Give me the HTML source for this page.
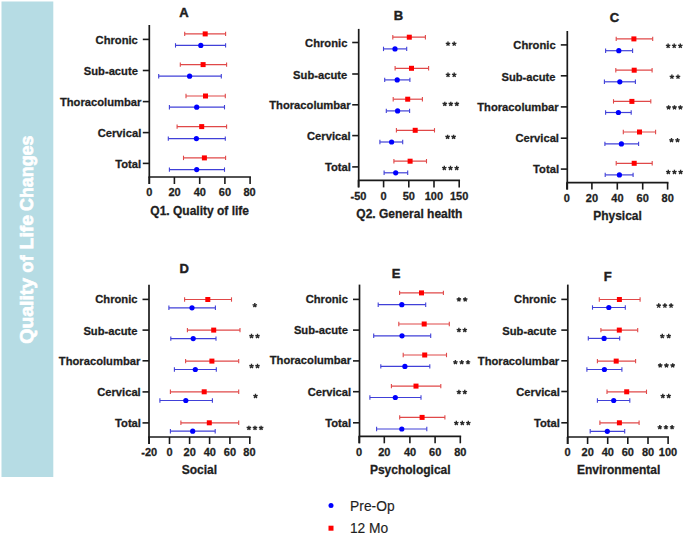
<!DOCTYPE html>
<html><head><meta charset="utf-8"><style>
html,body{margin:0;padding:0;background:#fff;}
body{width:685px;height:535px;overflow:hidden;position:relative;}
svg{position:absolute;left:0;top:0;}
text{font-family:"Liberation Sans",sans-serif;}
</style></head><body>
<svg width="685" height="535" viewBox="0 0 685 535">
<rect x="0" y="0" width="685" height="535" fill="#ffffff"/>
<rect x="1.5" y="1.5" width="51.8" height="475.5" fill="#b6dce4"/>
<text transform="translate(32.80,343.68) rotate(-90)" font-size="19.00" font-weight="bold" fill="#ffffff" stroke="#ffffff" stroke-width="0.7" textLength="65.77" lengthAdjust="spacingAndGlyphs">Quality</text>
<text transform="translate(32.80,272.63) rotate(-90)" font-size="19.00" font-weight="bold" fill="#ffffff" stroke="#ffffff" stroke-width="0.7" textLength="17.21" lengthAdjust="spacingAndGlyphs">of</text>
<text transform="translate(32.80,249.46) rotate(-90)" font-size="19.00" font-weight="bold" fill="#ffffff" stroke="#ffffff" stroke-width="0.7" textLength="34.50" lengthAdjust="spacingAndGlyphs">Life</text>
<text transform="translate(32.80,210.91) rotate(-90)" font-size="19.00" font-weight="bold" fill="#ffffff" stroke="#ffffff" stroke-width="0.7" textLength="75.28" lengthAdjust="spacingAndGlyphs">Changes</text>
<line x1="149.30" y1="25.00" x2="149.30" y2="184.00" stroke="#1a1a1a" stroke-width="1.70"/>
<line x1="148.45" y1="177.00" x2="250.95" y2="177.00" stroke="#1a1a1a" stroke-width="1.70"/>
<line x1="149.30" y1="177.00" x2="149.30" y2="184.00" stroke="#1a1a1a" stroke-width="1.60"/>
<text x="146.15" y="196.20" font-size="11.00" font-weight="bold" fill="#1e1e1e" stroke="#1e1e1e" stroke-width="0.28">0</text>
<line x1="174.40" y1="177.00" x2="174.40" y2="184.00" stroke="#1a1a1a" stroke-width="1.60"/>
<text x="168.42" y="196.20" font-size="11.00" font-weight="bold" fill="#1e1e1e" stroke="#1e1e1e" stroke-width="0.28">20</text>
<line x1="199.70" y1="177.00" x2="199.70" y2="184.00" stroke="#1a1a1a" stroke-width="1.60"/>
<text x="193.73" y="196.20" font-size="11.00" font-weight="bold" fill="#1e1e1e" stroke="#1e1e1e" stroke-width="0.28">40</text>
<line x1="224.90" y1="177.00" x2="224.90" y2="184.00" stroke="#1a1a1a" stroke-width="1.60"/>
<text x="218.82" y="196.20" font-size="11.00" font-weight="bold" fill="#1e1e1e" stroke="#1e1e1e" stroke-width="0.28">60</text>
<line x1="250.10" y1="177.00" x2="250.10" y2="184.00" stroke="#1a1a1a" stroke-width="1.60"/>
<text x="243.50" y="196.20" font-size="11.00" font-weight="bold" fill="#1e1e1e" stroke="#1e1e1e" stroke-width="0.28">80</text>
<line x1="142.80" y1="39.40" x2="149.30" y2="39.40" stroke="#1a1a1a" stroke-width="1.60"/>
<text x="95.55" y="43.50" font-size="11.20" font-weight="bold" fill="#1e1e1e" stroke="#1e1e1e" stroke-width="0.28">Chronic</text>
<line x1="142.80" y1="70.50" x2="149.30" y2="70.50" stroke="#1a1a1a" stroke-width="1.60"/>
<text x="83.80" y="74.60" font-size="11.20" font-weight="bold" fill="#1e1e1e" stroke="#1e1e1e" stroke-width="0.28">Sub-acute</text>
<line x1="142.80" y1="101.60" x2="149.30" y2="101.60" stroke="#1a1a1a" stroke-width="1.60"/>
<text x="59.96" y="105.70" font-size="11.20" font-weight="bold" fill="#1e1e1e" stroke="#1e1e1e" stroke-width="0.28">Thoracolumbar</text>
<line x1="142.80" y1="132.60" x2="149.30" y2="132.60" stroke="#1a1a1a" stroke-width="1.60"/>
<text x="97.73" y="136.90" font-size="11.20" font-weight="bold" fill="#1e1e1e" stroke="#1e1e1e" stroke-width="0.28">Cervical</text>
<line x1="142.80" y1="163.40" x2="149.30" y2="163.40" stroke="#1a1a1a" stroke-width="1.60"/>
<text x="115.25" y="167.80" font-size="11.20" font-weight="bold" fill="#1e1e1e" stroke="#1e1e1e" stroke-width="0.28">Total</text>
<line x1="184.70" y1="33.90" x2="225.60" y2="33.90" stroke="#e04848" stroke-width="1.20"/>
<line x1="184.70" y1="31.70" x2="184.70" y2="36.10" stroke="#e04848" stroke-width="1.10"/>
<line x1="225.60" y1="31.70" x2="225.60" y2="36.10" stroke="#e04848" stroke-width="1.10"/>
<rect x="202.70" y="31.40" width="5" height="5" fill="#ff0000"/>
<line x1="180.30" y1="64.60" x2="226.60" y2="64.60" stroke="#e04848" stroke-width="1.20"/>
<line x1="180.30" y1="62.40" x2="180.30" y2="66.80" stroke="#e04848" stroke-width="1.10"/>
<line x1="226.60" y1="62.40" x2="226.60" y2="66.80" stroke="#e04848" stroke-width="1.10"/>
<rect x="200.60" y="62.10" width="5" height="5" fill="#ff0000"/>
<line x1="186.00" y1="96.00" x2="225.30" y2="96.00" stroke="#e04848" stroke-width="1.20"/>
<line x1="186.00" y1="93.80" x2="186.00" y2="98.20" stroke="#e04848" stroke-width="1.10"/>
<line x1="225.30" y1="93.80" x2="225.30" y2="98.20" stroke="#e04848" stroke-width="1.10"/>
<rect x="203.00" y="93.50" width="5" height="5" fill="#ff0000"/>
<line x1="177.10" y1="126.60" x2="226.60" y2="126.60" stroke="#e04848" stroke-width="1.20"/>
<line x1="177.10" y1="124.40" x2="177.10" y2="128.80" stroke="#e04848" stroke-width="1.10"/>
<line x1="226.60" y1="124.40" x2="226.60" y2="128.80" stroke="#e04848" stroke-width="1.10"/>
<rect x="199.20" y="124.10" width="5" height="5" fill="#ff0000"/>
<line x1="183.50" y1="157.90" x2="225.60" y2="157.90" stroke="#e04848" stroke-width="1.20"/>
<line x1="183.50" y1="155.70" x2="183.50" y2="160.10" stroke="#e04848" stroke-width="1.10"/>
<line x1="225.60" y1="155.70" x2="225.60" y2="160.10" stroke="#e04848" stroke-width="1.10"/>
<rect x="201.90" y="155.40" width="5" height="5" fill="#ff0000"/>
<line x1="175.50" y1="45.40" x2="225.60" y2="45.40" stroke="#4040d8" stroke-width="1.20"/>
<line x1="175.50" y1="43.20" x2="175.50" y2="47.60" stroke="#4040d8" stroke-width="1.10"/>
<line x1="225.60" y1="43.20" x2="225.60" y2="47.60" stroke="#4040d8" stroke-width="1.10"/>
<circle cx="200.80" cy="45.40" r="2.6" fill="#0000ff"/>
<line x1="158.70" y1="76.20" x2="221.30" y2="76.20" stroke="#4040d8" stroke-width="1.20"/>
<line x1="158.70" y1="74.00" x2="158.70" y2="78.40" stroke="#4040d8" stroke-width="1.10"/>
<line x1="221.30" y1="74.00" x2="221.30" y2="78.40" stroke="#4040d8" stroke-width="1.10"/>
<circle cx="189.60" cy="76.20" r="2.6" fill="#0000ff"/>
<line x1="169.40" y1="107.20" x2="224.50" y2="107.20" stroke="#4040d8" stroke-width="1.20"/>
<line x1="169.40" y1="105.00" x2="169.40" y2="109.40" stroke="#4040d8" stroke-width="1.10"/>
<line x1="224.50" y1="105.00" x2="224.50" y2="109.40" stroke="#4040d8" stroke-width="1.10"/>
<circle cx="196.70" cy="107.20" r="2.6" fill="#0000ff"/>
<line x1="168.30" y1="138.60" x2="225.30" y2="138.60" stroke="#4040d8" stroke-width="1.20"/>
<line x1="168.30" y1="136.40" x2="168.30" y2="140.80" stroke="#4040d8" stroke-width="1.10"/>
<line x1="225.30" y1="136.40" x2="225.30" y2="140.80" stroke="#4040d8" stroke-width="1.10"/>
<circle cx="196.40" cy="138.60" r="2.6" fill="#0000ff"/>
<line x1="169.40" y1="169.60" x2="224.50" y2="169.60" stroke="#4040d8" stroke-width="1.20"/>
<line x1="169.40" y1="167.40" x2="169.40" y2="171.80" stroke="#4040d8" stroke-width="1.10"/>
<line x1="224.50" y1="167.40" x2="224.50" y2="171.80" stroke="#4040d8" stroke-width="1.10"/>
<circle cx="196.70" cy="169.60" r="2.6" fill="#0000ff"/>
<text x="179.17" y="16.60" font-size="13.00" font-weight="bold" fill="#1e1e1e" stroke="#1e1e1e" stroke-width="0.45">A</text>
<text x="150.32" y="214.80" font-size="12.00" font-weight="bold" fill="#1e1e1e" stroke="#1e1e1e" stroke-width="0.28">Q1. Quality of life</text>
<line x1="358.70" y1="28.90" x2="358.70" y2="187.40" stroke="#1a1a1a" stroke-width="1.70"/>
<line x1="357.85" y1="180.40" x2="460.05" y2="180.40" stroke="#1a1a1a" stroke-width="1.70"/>
<line x1="358.50" y1="180.40" x2="358.50" y2="187.40" stroke="#1a1a1a" stroke-width="1.60"/>
<text x="350.55" y="200.00" font-size="11.00" font-weight="bold" fill="#1e1e1e" stroke="#1e1e1e" stroke-width="0.28">-50</text>
<line x1="383.60" y1="180.40" x2="383.60" y2="187.40" stroke="#1a1a1a" stroke-width="1.60"/>
<text x="380.55" y="200.00" font-size="11.00" font-weight="bold" fill="#1e1e1e" stroke="#1e1e1e" stroke-width="0.28">0</text>
<line x1="408.80" y1="180.40" x2="408.80" y2="187.40" stroke="#1a1a1a" stroke-width="1.60"/>
<text x="402.75" y="200.00" font-size="11.00" font-weight="bold" fill="#1e1e1e" stroke="#1e1e1e" stroke-width="0.28">50</text>
<line x1="434.00" y1="180.40" x2="434.00" y2="187.40" stroke="#1a1a1a" stroke-width="1.60"/>
<text x="424.70" y="200.00" font-size="11.00" font-weight="bold" fill="#1e1e1e" stroke="#1e1e1e" stroke-width="0.28">100</text>
<line x1="459.20" y1="180.40" x2="459.20" y2="187.40" stroke="#1a1a1a" stroke-width="1.60"/>
<text x="449.90" y="200.00" font-size="11.00" font-weight="bold" fill="#1e1e1e" stroke="#1e1e1e" stroke-width="0.28">150</text>
<line x1="352.20" y1="42.50" x2="358.70" y2="42.50" stroke="#1a1a1a" stroke-width="1.60"/>
<text x="305.10" y="47.20" font-size="11.20" font-weight="bold" fill="#1e1e1e" stroke="#1e1e1e" stroke-width="0.28">Chronic</text>
<line x1="352.20" y1="74.00" x2="358.70" y2="74.00" stroke="#1a1a1a" stroke-width="1.60"/>
<text x="293.10" y="78.50" font-size="11.20" font-weight="bold" fill="#1e1e1e" stroke="#1e1e1e" stroke-width="0.28">Sub-acute</text>
<line x1="352.20" y1="104.80" x2="358.70" y2="104.80" stroke="#1a1a1a" stroke-width="1.60"/>
<text x="269.26" y="109.10" font-size="11.20" font-weight="bold" fill="#1e1e1e" stroke="#1e1e1e" stroke-width="0.28">Thoracolumbar</text>
<line x1="352.20" y1="135.60" x2="358.70" y2="135.60" stroke="#1a1a1a" stroke-width="1.60"/>
<text x="307.03" y="140.40" font-size="11.20" font-weight="bold" fill="#1e1e1e" stroke="#1e1e1e" stroke-width="0.28">Cervical</text>
<line x1="352.20" y1="166.90" x2="358.70" y2="166.90" stroke="#1a1a1a" stroke-width="1.60"/>
<text x="324.90" y="171.20" font-size="11.20" font-weight="bold" fill="#1e1e1e" stroke="#1e1e1e" stroke-width="0.28">Total</text>
<line x1="392.80" y1="37.20" x2="425.40" y2="37.20" stroke="#e04848" stroke-width="1.20"/>
<line x1="392.80" y1="35.00" x2="392.80" y2="39.40" stroke="#e04848" stroke-width="1.10"/>
<line x1="425.40" y1="35.00" x2="425.40" y2="39.40" stroke="#e04848" stroke-width="1.10"/>
<rect x="406.80" y="34.70" width="5" height="5" fill="#ff0000"/>
<line x1="395.10" y1="68.30" x2="428.60" y2="68.30" stroke="#e04848" stroke-width="1.20"/>
<line x1="395.10" y1="66.10" x2="395.10" y2="70.50" stroke="#e04848" stroke-width="1.10"/>
<line x1="428.60" y1="66.10" x2="428.60" y2="70.50" stroke="#e04848" stroke-width="1.10"/>
<rect x="409.00" y="65.80" width="5" height="5" fill="#ff0000"/>
<line x1="393.20" y1="99.20" x2="422.40" y2="99.20" stroke="#e04848" stroke-width="1.20"/>
<line x1="393.20" y1="97.00" x2="393.20" y2="101.40" stroke="#e04848" stroke-width="1.10"/>
<line x1="422.40" y1="97.00" x2="422.40" y2="101.40" stroke="#e04848" stroke-width="1.10"/>
<rect x="405.20" y="96.70" width="5" height="5" fill="#ff0000"/>
<line x1="396.40" y1="130.30" x2="434.50" y2="130.30" stroke="#e04848" stroke-width="1.20"/>
<line x1="396.40" y1="128.10" x2="396.40" y2="132.50" stroke="#e04848" stroke-width="1.10"/>
<line x1="434.50" y1="128.10" x2="434.50" y2="132.50" stroke="#e04848" stroke-width="1.10"/>
<rect x="412.70" y="127.80" width="5" height="5" fill="#ff0000"/>
<line x1="393.90" y1="161.20" x2="426.50" y2="161.20" stroke="#e04848" stroke-width="1.20"/>
<line x1="393.90" y1="159.00" x2="393.90" y2="163.40" stroke="#e04848" stroke-width="1.10"/>
<line x1="426.50" y1="159.00" x2="426.50" y2="163.40" stroke="#e04848" stroke-width="1.10"/>
<rect x="407.60" y="158.70" width="5" height="5" fill="#ff0000"/>
<line x1="383.50" y1="48.90" x2="406.70" y2="48.90" stroke="#4040d8" stroke-width="1.20"/>
<line x1="383.50" y1="46.70" x2="383.50" y2="51.10" stroke="#4040d8" stroke-width="1.10"/>
<line x1="406.70" y1="46.70" x2="406.70" y2="51.10" stroke="#4040d8" stroke-width="1.10"/>
<circle cx="395.00" cy="48.90" r="2.6" fill="#0000ff"/>
<line x1="384.70" y1="79.90" x2="409.90" y2="79.90" stroke="#4040d8" stroke-width="1.20"/>
<line x1="384.70" y1="77.70" x2="384.70" y2="82.10" stroke="#4040d8" stroke-width="1.10"/>
<line x1="409.90" y1="77.70" x2="409.90" y2="82.10" stroke="#4040d8" stroke-width="1.10"/>
<circle cx="397.20" cy="79.90" r="2.6" fill="#0000ff"/>
<line x1="386.30" y1="110.90" x2="409.60" y2="110.90" stroke="#4040d8" stroke-width="1.20"/>
<line x1="386.30" y1="108.70" x2="386.30" y2="113.10" stroke="#4040d8" stroke-width="1.10"/>
<line x1="409.60" y1="108.70" x2="409.60" y2="113.10" stroke="#4040d8" stroke-width="1.10"/>
<circle cx="397.60" cy="110.90" r="2.6" fill="#0000ff"/>
<line x1="379.90" y1="142.00" x2="402.70" y2="142.00" stroke="#4040d8" stroke-width="1.20"/>
<line x1="379.90" y1="139.80" x2="379.90" y2="144.20" stroke="#4040d8" stroke-width="1.10"/>
<line x1="402.70" y1="139.80" x2="402.70" y2="144.20" stroke="#4040d8" stroke-width="1.10"/>
<circle cx="391.60" cy="142.00" r="2.6" fill="#0000ff"/>
<line x1="384.10" y1="172.80" x2="407.70" y2="172.80" stroke="#4040d8" stroke-width="1.20"/>
<line x1="384.10" y1="170.60" x2="384.10" y2="175.00" stroke="#4040d8" stroke-width="1.10"/>
<line x1="407.70" y1="170.60" x2="407.70" y2="175.00" stroke="#4040d8" stroke-width="1.10"/>
<circle cx="395.70" cy="172.80" r="2.6" fill="#0000ff"/>
<path d="M448.00 43.80L448.00 41.45M448.00 43.80L450.23 43.07M448.00 43.80L449.38 45.70M448.00 43.80L446.62 45.70M448.00 43.80L445.77 43.07" stroke="#2a2a2a" stroke-width="1.4"/>
<path d="M454.20 43.80L454.20 41.45M454.20 43.80L456.43 43.07M454.20 43.80L455.58 45.70M454.20 43.80L452.82 45.70M454.20 43.80L451.97 43.07" stroke="#2a2a2a" stroke-width="1.4"/>
<path d="M448.00 74.90L448.00 72.55M448.00 74.90L450.23 74.17M448.00 74.90L449.38 76.80M448.00 74.90L446.62 76.80M448.00 74.90L445.77 74.17" stroke="#2a2a2a" stroke-width="1.4"/>
<path d="M454.20 74.90L454.20 72.55M454.20 74.90L456.43 74.17M454.20 74.90L455.58 76.80M454.20 74.90L452.82 76.80M454.20 74.90L451.97 74.17" stroke="#2a2a2a" stroke-width="1.4"/>
<path d="M444.80 104.00L444.80 101.65M444.80 104.00L447.03 103.27M444.80 104.00L446.18 105.90M444.80 104.00L443.42 105.90M444.80 104.00L442.57 103.27" stroke="#2a2a2a" stroke-width="1.4"/>
<path d="M450.80 104.00L450.80 101.65M450.80 104.00L453.03 103.27M450.80 104.00L452.18 105.90M450.80 104.00L449.42 105.90M450.80 104.00L448.57 103.27" stroke="#2a2a2a" stroke-width="1.4"/>
<path d="M456.80 104.00L456.80 101.65M456.80 104.00L459.03 103.27M456.80 104.00L458.18 105.90M456.80 104.00L455.42 105.90M456.80 104.00L454.57 103.27" stroke="#2a2a2a" stroke-width="1.4"/>
<path d="M447.60 137.00L447.60 134.65M447.60 137.00L449.83 136.27M447.60 137.00L448.98 138.90M447.60 137.00L446.22 138.90M447.60 137.00L445.37 136.27" stroke="#2a2a2a" stroke-width="1.4"/>
<path d="M453.60 137.00L453.60 134.65M453.60 137.00L455.83 136.27M453.60 137.00L454.98 138.90M453.60 137.00L452.22 138.90M453.60 137.00L451.37 136.27" stroke="#2a2a2a" stroke-width="1.4"/>
<path d="M444.30 168.10L444.30 165.75M444.30 168.10L446.53 167.37M444.30 168.10L445.68 170.00M444.30 168.10L442.92 170.00M444.30 168.10L442.07 167.37" stroke="#2a2a2a" stroke-width="1.4"/>
<path d="M450.50 168.10L450.50 165.75M450.50 168.10L452.73 167.37M450.50 168.10L451.88 170.00M450.50 168.10L449.12 170.00M450.50 168.10L448.27 167.37" stroke="#2a2a2a" stroke-width="1.4"/>
<path d="M456.70 168.10L456.70 165.75M456.70 168.10L458.93 167.37M456.70 168.10L458.08 170.00M456.70 168.10L455.32 170.00M456.70 168.10L454.47 167.37" stroke="#2a2a2a" stroke-width="1.4"/>
<text x="393.74" y="19.90" font-size="13.00" font-weight="bold" fill="#1e1e1e" stroke="#1e1e1e" stroke-width="0.45">B</text>
<text x="356.36" y="218.20" font-size="12.00" font-weight="bold" fill="#1e1e1e" stroke="#1e1e1e" stroke-width="0.28">Q2. General health</text>
<line x1="567.30" y1="31.00" x2="567.30" y2="189.60" stroke="#1a1a1a" stroke-width="1.70"/>
<line x1="566.45" y1="182.60" x2="668.45" y2="182.60" stroke="#1a1a1a" stroke-width="1.70"/>
<line x1="566.90" y1="182.60" x2="566.90" y2="189.60" stroke="#1a1a1a" stroke-width="1.60"/>
<text x="563.85" y="201.80" font-size="11.00" font-weight="bold" fill="#1e1e1e" stroke="#1e1e1e" stroke-width="0.28">0</text>
<line x1="591.90" y1="182.60" x2="591.90" y2="189.60" stroke="#1a1a1a" stroke-width="1.60"/>
<text x="585.82" y="201.80" font-size="11.00" font-weight="bold" fill="#1e1e1e" stroke="#1e1e1e" stroke-width="0.28">20</text>
<line x1="617.30" y1="182.60" x2="617.30" y2="189.60" stroke="#1a1a1a" stroke-width="1.60"/>
<text x="611.33" y="201.80" font-size="11.00" font-weight="bold" fill="#1e1e1e" stroke="#1e1e1e" stroke-width="0.28">40</text>
<line x1="642.70" y1="182.60" x2="642.70" y2="189.60" stroke="#1a1a1a" stroke-width="1.60"/>
<text x="636.62" y="201.80" font-size="11.00" font-weight="bold" fill="#1e1e1e" stroke="#1e1e1e" stroke-width="0.28">60</text>
<line x1="667.60" y1="182.60" x2="667.60" y2="189.60" stroke="#1a1a1a" stroke-width="1.60"/>
<text x="661.55" y="201.80" font-size="11.00" font-weight="bold" fill="#1e1e1e" stroke="#1e1e1e" stroke-width="0.28">80</text>
<line x1="560.80" y1="44.90" x2="567.30" y2="44.90" stroke="#1a1a1a" stroke-width="1.60"/>
<text x="513.35" y="49.30" font-size="11.20" font-weight="bold" fill="#1e1e1e" stroke="#1e1e1e" stroke-width="0.28">Chronic</text>
<line x1="560.80" y1="75.80" x2="567.30" y2="75.80" stroke="#1a1a1a" stroke-width="1.60"/>
<text x="501.45" y="80.50" font-size="11.20" font-weight="bold" fill="#1e1e1e" stroke="#1e1e1e" stroke-width="0.28">Sub-acute</text>
<line x1="560.80" y1="106.90" x2="567.30" y2="106.90" stroke="#1a1a1a" stroke-width="1.60"/>
<text x="477.26" y="111.10" font-size="11.20" font-weight="bold" fill="#1e1e1e" stroke="#1e1e1e" stroke-width="0.28">Thoracolumbar</text>
<line x1="560.80" y1="138.20" x2="567.30" y2="138.20" stroke="#1a1a1a" stroke-width="1.60"/>
<text x="515.43" y="142.30" font-size="11.20" font-weight="bold" fill="#1e1e1e" stroke="#1e1e1e" stroke-width="0.28">Cervical</text>
<line x1="560.80" y1="169.10" x2="567.30" y2="169.10" stroke="#1a1a1a" stroke-width="1.60"/>
<text x="533.10" y="172.80" font-size="11.20" font-weight="bold" fill="#1e1e1e" stroke="#1e1e1e" stroke-width="0.28">Total</text>
<line x1="616.20" y1="38.90" x2="652.70" y2="38.90" stroke="#e04848" stroke-width="1.20"/>
<line x1="616.20" y1="36.70" x2="616.20" y2="41.10" stroke="#e04848" stroke-width="1.10"/>
<line x1="652.70" y1="36.70" x2="652.70" y2="41.10" stroke="#e04848" stroke-width="1.10"/>
<rect x="631.40" y="36.40" width="5" height="5" fill="#ff0000"/>
<line x1="615.80" y1="70.20" x2="652.10" y2="70.20" stroke="#e04848" stroke-width="1.20"/>
<line x1="615.80" y1="68.00" x2="615.80" y2="72.40" stroke="#e04848" stroke-width="1.10"/>
<line x1="652.10" y1="68.00" x2="652.10" y2="72.40" stroke="#e04848" stroke-width="1.10"/>
<rect x="631.70" y="67.70" width="5" height="5" fill="#ff0000"/>
<line x1="613.50" y1="101.40" x2="650.80" y2="101.40" stroke="#e04848" stroke-width="1.20"/>
<line x1="613.50" y1="99.20" x2="613.50" y2="103.60" stroke="#e04848" stroke-width="1.10"/>
<line x1="650.80" y1="99.20" x2="650.80" y2="103.60" stroke="#e04848" stroke-width="1.10"/>
<rect x="629.40" y="98.90" width="5" height="5" fill="#ff0000"/>
<line x1="623.30" y1="132.00" x2="655.60" y2="132.00" stroke="#e04848" stroke-width="1.20"/>
<line x1="623.30" y1="129.80" x2="623.30" y2="134.20" stroke="#e04848" stroke-width="1.10"/>
<line x1="655.60" y1="129.80" x2="655.60" y2="134.20" stroke="#e04848" stroke-width="1.10"/>
<rect x="637.00" y="129.50" width="5" height="5" fill="#ff0000"/>
<line x1="616.20" y1="163.30" x2="652.20" y2="163.30" stroke="#e04848" stroke-width="1.20"/>
<line x1="616.20" y1="161.10" x2="616.20" y2="165.50" stroke="#e04848" stroke-width="1.10"/>
<line x1="652.20" y1="161.10" x2="652.20" y2="165.50" stroke="#e04848" stroke-width="1.10"/>
<rect x="631.70" y="160.80" width="5" height="5" fill="#ff0000"/>
<line x1="605.60" y1="50.70" x2="632.60" y2="50.70" stroke="#4040d8" stroke-width="1.20"/>
<line x1="605.60" y1="48.50" x2="605.60" y2="52.90" stroke="#4040d8" stroke-width="1.10"/>
<line x1="632.60" y1="48.50" x2="632.60" y2="52.90" stroke="#4040d8" stroke-width="1.10"/>
<circle cx="618.80" cy="50.70" r="2.6" fill="#0000ff"/>
<line x1="604.40" y1="81.80" x2="635.40" y2="81.80" stroke="#4040d8" stroke-width="1.20"/>
<line x1="604.40" y1="79.60" x2="604.40" y2="84.00" stroke="#4040d8" stroke-width="1.10"/>
<line x1="635.40" y1="79.60" x2="635.40" y2="84.00" stroke="#4040d8" stroke-width="1.10"/>
<circle cx="619.80" cy="81.80" r="2.6" fill="#0000ff"/>
<line x1="605.60" y1="112.50" x2="631.20" y2="112.50" stroke="#4040d8" stroke-width="1.20"/>
<line x1="605.60" y1="110.30" x2="605.60" y2="114.70" stroke="#4040d8" stroke-width="1.10"/>
<line x1="631.20" y1="110.30" x2="631.20" y2="114.70" stroke="#4040d8" stroke-width="1.10"/>
<circle cx="618.40" cy="112.50" r="2.6" fill="#0000ff"/>
<line x1="604.90" y1="143.90" x2="638.60" y2="143.90" stroke="#4040d8" stroke-width="1.20"/>
<line x1="604.90" y1="141.70" x2="604.90" y2="146.10" stroke="#4040d8" stroke-width="1.10"/>
<line x1="638.60" y1="141.70" x2="638.60" y2="146.10" stroke="#4040d8" stroke-width="1.10"/>
<circle cx="621.40" cy="143.90" r="2.6" fill="#0000ff"/>
<line x1="605.20" y1="174.90" x2="633.10" y2="174.90" stroke="#4040d8" stroke-width="1.20"/>
<line x1="605.20" y1="172.70" x2="605.20" y2="177.10" stroke="#4040d8" stroke-width="1.10"/>
<line x1="633.10" y1="172.70" x2="633.10" y2="177.10" stroke="#4040d8" stroke-width="1.10"/>
<circle cx="619.40" cy="174.90" r="2.6" fill="#0000ff"/>
<path d="M668.10 45.90L668.10 43.55M668.10 45.90L670.33 45.17M668.10 45.90L669.48 47.80M668.10 45.90L666.72 47.80M668.10 45.90L665.87 45.17" stroke="#2a2a2a" stroke-width="1.4"/>
<path d="M674.20 45.90L674.20 43.55M674.20 45.90L676.43 45.17M674.20 45.90L675.58 47.80M674.20 45.90L672.82 47.80M674.20 45.90L671.97 45.17" stroke="#2a2a2a" stroke-width="1.4"/>
<path d="M680.30 45.90L680.30 43.55M680.30 45.90L682.53 45.17M680.30 45.90L681.68 47.80M680.30 45.90L678.92 47.80M680.30 45.90L678.07 45.17" stroke="#2a2a2a" stroke-width="1.4"/>
<path d="M671.90 76.80L671.90 74.45M671.90 76.80L674.13 76.07M671.90 76.80L673.28 78.70M671.90 76.80L670.52 78.70M671.90 76.80L669.67 76.07" stroke="#2a2a2a" stroke-width="1.4"/>
<path d="M678.00 76.80L678.00 74.45M678.00 76.80L680.23 76.07M678.00 76.80L679.38 78.70M678.00 76.80L676.62 78.70M678.00 76.80L675.77 76.07" stroke="#2a2a2a" stroke-width="1.4"/>
<path d="M668.60 107.50L668.60 105.15M668.60 107.50L670.83 106.77M668.60 107.50L669.98 109.40M668.60 107.50L667.22 109.40M668.60 107.50L666.37 106.77" stroke="#2a2a2a" stroke-width="1.4"/>
<path d="M674.50 107.50L674.50 105.15M674.50 107.50L676.73 106.77M674.50 107.50L675.88 109.40M674.50 107.50L673.12 109.40M674.50 107.50L672.27 106.77" stroke="#2a2a2a" stroke-width="1.4"/>
<path d="M680.40 107.50L680.40 105.15M680.40 107.50L682.63 106.77M680.40 107.50L681.78 109.40M680.40 107.50L679.02 109.40M680.40 107.50L678.17 106.77" stroke="#2a2a2a" stroke-width="1.4"/>
<path d="M671.50 140.30L671.50 137.95M671.50 140.30L673.73 139.57M671.50 140.30L672.88 142.20M671.50 140.30L670.12 142.20M671.50 140.30L669.27 139.57" stroke="#2a2a2a" stroke-width="1.4"/>
<path d="M677.50 140.30L677.50 137.95M677.50 140.30L679.73 139.57M677.50 140.30L678.88 142.20M677.50 140.30L676.12 142.20M677.50 140.30L675.27 139.57" stroke="#2a2a2a" stroke-width="1.4"/>
<path d="M668.30 172.10L668.30 169.75M668.30 172.10L670.53 171.37M668.30 172.10L669.68 174.00M668.30 172.10L666.92 174.00M668.30 172.10L666.07 171.37" stroke="#2a2a2a" stroke-width="1.4"/>
<path d="M674.45 172.10L674.45 169.75M674.45 172.10L676.68 171.37M674.45 172.10L675.83 174.00M674.45 172.10L673.07 174.00M674.45 172.10L672.22 171.37" stroke="#2a2a2a" stroke-width="1.4"/>
<path d="M680.60 172.10L680.60 169.75M680.60 172.10L682.83 171.37M680.60 172.10L681.98 174.00M680.60 172.10L679.22 174.00M680.60 172.10L678.37 171.37" stroke="#2a2a2a" stroke-width="1.4"/>
<text x="609.72" y="21.50" font-size="13.00" font-weight="bold" fill="#1e1e1e" stroke="#1e1e1e" stroke-width="0.45">C</text>
<text x="593.15" y="219.50" font-size="12.00" font-weight="bold" fill="#1e1e1e" stroke="#1e1e1e" stroke-width="0.28">Physical</text>
<line x1="149.00" y1="284.70" x2="149.00" y2="444.00" stroke="#1a1a1a" stroke-width="1.70"/>
<line x1="148.15" y1="437.00" x2="250.65" y2="437.00" stroke="#1a1a1a" stroke-width="1.70"/>
<line x1="149.20" y1="437.00" x2="149.20" y2="444.00" stroke="#1a1a1a" stroke-width="1.60"/>
<text x="141.25" y="456.30" font-size="11.00" font-weight="bold" fill="#1e1e1e" stroke="#1e1e1e" stroke-width="0.28">-20</text>
<line x1="169.50" y1="437.00" x2="169.50" y2="444.00" stroke="#1a1a1a" stroke-width="1.60"/>
<text x="166.45" y="456.30" font-size="11.00" font-weight="bold" fill="#1e1e1e" stroke="#1e1e1e" stroke-width="0.28">0</text>
<line x1="189.60" y1="437.00" x2="189.60" y2="444.00" stroke="#1a1a1a" stroke-width="1.60"/>
<text x="183.52" y="456.30" font-size="11.00" font-weight="bold" fill="#1e1e1e" stroke="#1e1e1e" stroke-width="0.28">20</text>
<line x1="209.60" y1="437.00" x2="209.60" y2="444.00" stroke="#1a1a1a" stroke-width="1.60"/>
<text x="203.63" y="456.30" font-size="11.00" font-weight="bold" fill="#1e1e1e" stroke="#1e1e1e" stroke-width="0.28">40</text>
<line x1="229.90" y1="437.00" x2="229.90" y2="444.00" stroke="#1a1a1a" stroke-width="1.60"/>
<text x="223.82" y="456.30" font-size="11.00" font-weight="bold" fill="#1e1e1e" stroke="#1e1e1e" stroke-width="0.28">60</text>
<line x1="249.80" y1="437.00" x2="249.80" y2="444.00" stroke="#1a1a1a" stroke-width="1.60"/>
<text x="243.30" y="456.30" font-size="11.00" font-weight="bold" fill="#1e1e1e" stroke="#1e1e1e" stroke-width="0.28">80</text>
<line x1="142.50" y1="299.40" x2="149.00" y2="299.40" stroke="#1a1a1a" stroke-width="1.60"/>
<text x="95.25" y="303.20" font-size="11.20" font-weight="bold" fill="#1e1e1e" stroke="#1e1e1e" stroke-width="0.28">Chronic</text>
<line x1="142.50" y1="330.10" x2="149.00" y2="330.10" stroke="#1a1a1a" stroke-width="1.60"/>
<text x="83.40" y="334.60" font-size="11.20" font-weight="bold" fill="#1e1e1e" stroke="#1e1e1e" stroke-width="0.28">Sub-acute</text>
<line x1="142.50" y1="360.80" x2="149.00" y2="360.80" stroke="#1a1a1a" stroke-width="1.60"/>
<text x="58.86" y="364.90" font-size="11.20" font-weight="bold" fill="#1e1e1e" stroke="#1e1e1e" stroke-width="0.28">Thoracolumbar</text>
<line x1="142.50" y1="391.90" x2="149.00" y2="391.90" stroke="#1a1a1a" stroke-width="1.60"/>
<text x="97.18" y="396.00" font-size="11.20" font-weight="bold" fill="#1e1e1e" stroke="#1e1e1e" stroke-width="0.28">Cervical</text>
<line x1="142.50" y1="422.90" x2="149.00" y2="422.90" stroke="#1a1a1a" stroke-width="1.60"/>
<text x="115.05" y="427.00" font-size="11.20" font-weight="bold" fill="#1e1e1e" stroke="#1e1e1e" stroke-width="0.28">Total</text>
<line x1="184.60" y1="299.50" x2="231.50" y2="299.50" stroke="#e04848" stroke-width="1.20"/>
<line x1="184.60" y1="297.30" x2="184.60" y2="301.70" stroke="#e04848" stroke-width="1.10"/>
<line x1="231.50" y1="297.30" x2="231.50" y2="301.70" stroke="#e04848" stroke-width="1.10"/>
<rect x="205.30" y="297.00" width="5" height="5" fill="#ff0000"/>
<line x1="187.40" y1="330.10" x2="240.00" y2="330.10" stroke="#e04848" stroke-width="1.20"/>
<line x1="187.40" y1="327.90" x2="187.40" y2="332.30" stroke="#e04848" stroke-width="1.10"/>
<line x1="240.00" y1="327.90" x2="240.00" y2="332.30" stroke="#e04848" stroke-width="1.10"/>
<rect x="211.20" y="327.60" width="5" height="5" fill="#ff0000"/>
<line x1="185.60" y1="361.10" x2="238.70" y2="361.10" stroke="#e04848" stroke-width="1.20"/>
<line x1="185.60" y1="358.90" x2="185.60" y2="363.30" stroke="#e04848" stroke-width="1.10"/>
<line x1="238.70" y1="358.90" x2="238.70" y2="363.30" stroke="#e04848" stroke-width="1.10"/>
<rect x="209.40" y="358.60" width="5" height="5" fill="#ff0000"/>
<line x1="170.40" y1="391.80" x2="238.70" y2="391.80" stroke="#e04848" stroke-width="1.20"/>
<line x1="170.40" y1="389.60" x2="170.40" y2="394.00" stroke="#e04848" stroke-width="1.10"/>
<line x1="238.70" y1="389.60" x2="238.70" y2="394.00" stroke="#e04848" stroke-width="1.10"/>
<rect x="201.70" y="389.30" width="5" height="5" fill="#ff0000"/>
<line x1="180.90" y1="422.80" x2="238.70" y2="422.80" stroke="#e04848" stroke-width="1.20"/>
<line x1="180.90" y1="420.60" x2="180.90" y2="425.00" stroke="#e04848" stroke-width="1.10"/>
<line x1="238.70" y1="420.60" x2="238.70" y2="425.00" stroke="#e04848" stroke-width="1.10"/>
<rect x="206.80" y="420.30" width="5" height="5" fill="#ff0000"/>
<line x1="168.90" y1="307.80" x2="215.40" y2="307.80" stroke="#4040d8" stroke-width="1.20"/>
<line x1="168.90" y1="305.60" x2="168.90" y2="310.00" stroke="#4040d8" stroke-width="1.10"/>
<line x1="215.40" y1="305.60" x2="215.40" y2="310.00" stroke="#4040d8" stroke-width="1.10"/>
<circle cx="192.00" cy="307.80" r="2.6" fill="#0000ff"/>
<line x1="170.80" y1="338.60" x2="216.00" y2="338.60" stroke="#4040d8" stroke-width="1.20"/>
<line x1="170.80" y1="336.40" x2="170.80" y2="340.80" stroke="#4040d8" stroke-width="1.10"/>
<line x1="216.00" y1="336.40" x2="216.00" y2="340.80" stroke="#4040d8" stroke-width="1.10"/>
<circle cx="193.20" cy="338.60" r="2.6" fill="#0000ff"/>
<line x1="174.40" y1="369.50" x2="216.30" y2="369.50" stroke="#4040d8" stroke-width="1.20"/>
<line x1="174.40" y1="367.30" x2="174.40" y2="371.70" stroke="#4040d8" stroke-width="1.10"/>
<line x1="216.30" y1="367.30" x2="216.30" y2="371.70" stroke="#4040d8" stroke-width="1.10"/>
<circle cx="195.30" cy="369.50" r="2.6" fill="#0000ff"/>
<line x1="159.90" y1="400.50" x2="212.40" y2="400.50" stroke="#4040d8" stroke-width="1.20"/>
<line x1="159.90" y1="398.30" x2="159.90" y2="402.70" stroke="#4040d8" stroke-width="1.10"/>
<line x1="212.40" y1="398.30" x2="212.40" y2="402.70" stroke="#4040d8" stroke-width="1.10"/>
<circle cx="185.80" cy="400.50" r="2.6" fill="#0000ff"/>
<line x1="170.40" y1="431.20" x2="215.20" y2="431.20" stroke="#4040d8" stroke-width="1.20"/>
<line x1="170.40" y1="429.00" x2="170.40" y2="433.40" stroke="#4040d8" stroke-width="1.10"/>
<line x1="215.20" y1="429.00" x2="215.20" y2="433.40" stroke="#4040d8" stroke-width="1.10"/>
<circle cx="192.70" cy="431.20" r="2.6" fill="#0000ff"/>
<path d="M254.80 305.30L254.80 302.95M254.80 305.30L257.03 304.57M254.80 305.30L256.18 307.20M254.80 305.30L253.42 307.20M254.80 305.30L252.57 304.57" stroke="#2a2a2a" stroke-width="1.4"/>
<path d="M251.50 336.20L251.50 333.85M251.50 336.20L253.73 335.47M251.50 336.20L252.88 338.10M251.50 336.20L250.12 338.10M251.50 336.20L249.27 335.47" stroke="#2a2a2a" stroke-width="1.4"/>
<path d="M257.50 336.20L257.50 333.85M257.50 336.20L259.73 335.47M257.50 336.20L258.88 338.10M257.50 336.20L256.12 338.10M257.50 336.20L255.27 335.47" stroke="#2a2a2a" stroke-width="1.4"/>
<path d="M251.50 366.20L251.50 363.85M251.50 366.20L253.73 365.47M251.50 366.20L252.88 368.10M251.50 366.20L250.12 368.10M251.50 366.20L249.27 365.47" stroke="#2a2a2a" stroke-width="1.4"/>
<path d="M257.50 366.20L257.50 363.85M257.50 366.20L259.73 365.47M257.50 366.20L258.88 368.10M257.50 366.20L256.12 368.10M257.50 366.20L255.27 365.47" stroke="#2a2a2a" stroke-width="1.4"/>
<path d="M255.50 396.10L255.50 393.75M255.50 396.10L257.73 395.37M255.50 396.10L256.88 398.00M255.50 396.10L254.12 398.00M255.50 396.10L253.27 395.37" stroke="#2a2a2a" stroke-width="1.4"/>
<path d="M248.90 428.00L248.90 425.65M248.90 428.00L251.13 427.27M248.90 428.00L250.28 429.90M248.90 428.00L247.52 429.90M248.90 428.00L246.67 427.27" stroke="#2a2a2a" stroke-width="1.4"/>
<path d="M255.00 428.00L255.00 425.65M255.00 428.00L257.23 427.27M255.00 428.00L256.38 429.90M255.00 428.00L253.62 429.90M255.00 428.00L252.77 427.27" stroke="#2a2a2a" stroke-width="1.4"/>
<path d="M261.10 428.00L261.10 425.65M261.10 428.00L263.33 427.27M261.10 428.00L262.48 429.90M261.10 428.00L259.72 429.90M261.10 428.00L258.87 427.27" stroke="#2a2a2a" stroke-width="1.4"/>
<text x="179.41" y="273.10" font-size="13.00" font-weight="bold" fill="#1e1e1e" stroke="#1e1e1e" stroke-width="0.45">D</text>
<text x="181.72" y="473.90" font-size="12.00" font-weight="bold" fill="#1e1e1e" stroke="#1e1e1e" stroke-width="0.28">Social</text>
<line x1="359.50" y1="284.60" x2="359.50" y2="443.30" stroke="#1a1a1a" stroke-width="1.70"/>
<line x1="358.65" y1="436.30" x2="461.15" y2="436.30" stroke="#1a1a1a" stroke-width="1.70"/>
<line x1="359.10" y1="436.30" x2="359.10" y2="443.30" stroke="#1a1a1a" stroke-width="1.60"/>
<text x="356.05" y="455.70" font-size="11.00" font-weight="bold" fill="#1e1e1e" stroke="#1e1e1e" stroke-width="0.28">0</text>
<line x1="384.30" y1="436.30" x2="384.30" y2="443.30" stroke="#1a1a1a" stroke-width="1.60"/>
<text x="378.22" y="455.70" font-size="11.00" font-weight="bold" fill="#1e1e1e" stroke="#1e1e1e" stroke-width="0.28">20</text>
<line x1="409.90" y1="436.30" x2="409.90" y2="443.30" stroke="#1a1a1a" stroke-width="1.60"/>
<text x="403.93" y="455.70" font-size="11.00" font-weight="bold" fill="#1e1e1e" stroke="#1e1e1e" stroke-width="0.28">40</text>
<line x1="435.10" y1="436.30" x2="435.10" y2="443.30" stroke="#1a1a1a" stroke-width="1.60"/>
<text x="429.02" y="455.70" font-size="11.00" font-weight="bold" fill="#1e1e1e" stroke="#1e1e1e" stroke-width="0.28">60</text>
<line x1="460.30" y1="436.30" x2="460.30" y2="443.30" stroke="#1a1a1a" stroke-width="1.60"/>
<text x="454.25" y="455.70" font-size="11.00" font-weight="bold" fill="#1e1e1e" stroke="#1e1e1e" stroke-width="0.28">80</text>
<line x1="353.00" y1="299.40" x2="359.50" y2="299.40" stroke="#1a1a1a" stroke-width="1.60"/>
<text x="305.65" y="302.70" font-size="11.20" font-weight="bold" fill="#1e1e1e" stroke="#1e1e1e" stroke-width="0.28">Chronic</text>
<line x1="353.00" y1="330.10" x2="359.50" y2="330.10" stroke="#1a1a1a" stroke-width="1.60"/>
<text x="293.90" y="334.10" font-size="11.20" font-weight="bold" fill="#1e1e1e" stroke="#1e1e1e" stroke-width="0.28">Sub-acute</text>
<line x1="353.00" y1="360.90" x2="359.50" y2="360.90" stroke="#1a1a1a" stroke-width="1.60"/>
<text x="269.76" y="364.40" font-size="11.20" font-weight="bold" fill="#1e1e1e" stroke="#1e1e1e" stroke-width="0.28">Thoracolumbar</text>
<line x1="353.00" y1="391.70" x2="359.50" y2="391.70" stroke="#1a1a1a" stroke-width="1.60"/>
<text x="307.63" y="395.70" font-size="11.20" font-weight="bold" fill="#1e1e1e" stroke="#1e1e1e" stroke-width="0.28">Cervical</text>
<line x1="353.00" y1="422.80" x2="359.50" y2="422.80" stroke="#1a1a1a" stroke-width="1.60"/>
<text x="325.25" y="427.00" font-size="11.20" font-weight="bold" fill="#1e1e1e" stroke="#1e1e1e" stroke-width="0.28">Total</text>
<line x1="399.60" y1="292.90" x2="443.40" y2="292.90" stroke="#e04848" stroke-width="1.20"/>
<line x1="399.60" y1="290.70" x2="399.60" y2="295.10" stroke="#e04848" stroke-width="1.10"/>
<line x1="443.40" y1="290.70" x2="443.40" y2="295.10" stroke="#e04848" stroke-width="1.10"/>
<rect x="419.00" y="290.40" width="5" height="5" fill="#ff0000"/>
<line x1="398.80" y1="324.00" x2="449.30" y2="324.00" stroke="#e04848" stroke-width="1.20"/>
<line x1="398.80" y1="321.80" x2="398.80" y2="326.20" stroke="#e04848" stroke-width="1.10"/>
<line x1="449.30" y1="321.80" x2="449.30" y2="326.20" stroke="#e04848" stroke-width="1.10"/>
<rect x="421.70" y="321.50" width="5" height="5" fill="#ff0000"/>
<line x1="403.20" y1="355.00" x2="446.50" y2="355.00" stroke="#e04848" stroke-width="1.20"/>
<line x1="403.20" y1="352.80" x2="403.20" y2="357.20" stroke="#e04848" stroke-width="1.10"/>
<line x1="446.50" y1="352.80" x2="446.50" y2="357.20" stroke="#e04848" stroke-width="1.10"/>
<rect x="422.20" y="352.50" width="5" height="5" fill="#ff0000"/>
<line x1="391.40" y1="386.10" x2="440.80" y2="386.10" stroke="#e04848" stroke-width="1.20"/>
<line x1="391.40" y1="383.90" x2="391.40" y2="388.30" stroke="#e04848" stroke-width="1.10"/>
<line x1="440.80" y1="383.90" x2="440.80" y2="388.30" stroke="#e04848" stroke-width="1.10"/>
<rect x="413.50" y="383.60" width="5" height="5" fill="#ff0000"/>
<line x1="399.70" y1="417.40" x2="444.90" y2="417.40" stroke="#e04848" stroke-width="1.20"/>
<line x1="399.70" y1="415.20" x2="399.70" y2="419.60" stroke="#e04848" stroke-width="1.10"/>
<line x1="444.90" y1="415.20" x2="444.90" y2="419.60" stroke="#e04848" stroke-width="1.10"/>
<rect x="419.60" y="414.90" width="5" height="5" fill="#ff0000"/>
<line x1="378.20" y1="304.70" x2="425.70" y2="304.70" stroke="#4040d8" stroke-width="1.20"/>
<line x1="378.20" y1="302.50" x2="378.20" y2="306.90" stroke="#4040d8" stroke-width="1.10"/>
<line x1="425.70" y1="302.50" x2="425.70" y2="306.90" stroke="#4040d8" stroke-width="1.10"/>
<circle cx="401.80" cy="304.70" r="2.6" fill="#0000ff"/>
<line x1="373.70" y1="335.80" x2="430.70" y2="335.80" stroke="#4040d8" stroke-width="1.20"/>
<line x1="373.70" y1="333.60" x2="373.70" y2="338.00" stroke="#4040d8" stroke-width="1.10"/>
<line x1="430.70" y1="333.60" x2="430.70" y2="338.00" stroke="#4040d8" stroke-width="1.10"/>
<circle cx="402.00" cy="335.80" r="2.6" fill="#0000ff"/>
<line x1="380.80" y1="366.40" x2="429.80" y2="366.40" stroke="#4040d8" stroke-width="1.20"/>
<line x1="380.80" y1="364.20" x2="380.80" y2="368.60" stroke="#4040d8" stroke-width="1.10"/>
<line x1="429.80" y1="364.20" x2="429.80" y2="368.60" stroke="#4040d8" stroke-width="1.10"/>
<circle cx="404.90" cy="366.40" r="2.6" fill="#0000ff"/>
<line x1="369.90" y1="397.50" x2="421.00" y2="397.50" stroke="#4040d8" stroke-width="1.20"/>
<line x1="369.90" y1="395.30" x2="369.90" y2="399.70" stroke="#4040d8" stroke-width="1.10"/>
<line x1="421.00" y1="395.30" x2="421.00" y2="399.70" stroke="#4040d8" stroke-width="1.10"/>
<circle cx="395.30" cy="397.50" r="2.6" fill="#0000ff"/>
<line x1="376.60" y1="429.00" x2="426.80" y2="429.00" stroke="#4040d8" stroke-width="1.20"/>
<line x1="376.60" y1="426.80" x2="376.60" y2="431.20" stroke="#4040d8" stroke-width="1.10"/>
<line x1="426.80" y1="426.80" x2="426.80" y2="431.20" stroke="#4040d8" stroke-width="1.10"/>
<circle cx="401.80" cy="429.00" r="2.6" fill="#0000ff"/>
<path d="M458.90 299.50L458.90 297.15M458.90 299.50L461.13 298.77M458.90 299.50L460.28 301.40M458.90 299.50L457.52 301.40M458.90 299.50L456.67 298.77" stroke="#2a2a2a" stroke-width="1.4"/>
<path d="M465.20 299.50L465.20 297.15M465.20 299.50L467.43 298.77M465.20 299.50L466.58 301.40M465.20 299.50L463.82 301.40M465.20 299.50L462.97 298.77" stroke="#2a2a2a" stroke-width="1.4"/>
<path d="M458.90 330.10L458.90 327.75M458.90 330.10L461.13 329.37M458.90 330.10L460.28 332.00M458.90 330.10L457.52 332.00M458.90 330.10L456.67 329.37" stroke="#2a2a2a" stroke-width="1.4"/>
<path d="M464.80 330.10L464.80 327.75M464.80 330.10L467.03 329.37M464.80 330.10L466.18 332.00M464.80 330.10L463.42 332.00M464.80 330.10L462.57 329.37" stroke="#2a2a2a" stroke-width="1.4"/>
<path d="M455.40 362.30L455.40 359.95M455.40 362.30L457.63 361.57M455.40 362.30L456.78 364.20M455.40 362.30L454.02 364.20M455.40 362.30L453.17 361.57" stroke="#2a2a2a" stroke-width="1.4"/>
<path d="M461.70 362.30L461.70 359.95M461.70 362.30L463.93 361.57M461.70 362.30L463.08 364.20M461.70 362.30L460.32 364.20M461.70 362.30L459.47 361.57" stroke="#2a2a2a" stroke-width="1.4"/>
<path d="M468.00 362.30L468.00 359.95M468.00 362.30L470.23 361.57M468.00 362.30L469.38 364.20M468.00 362.30L466.62 364.20M468.00 362.30L465.77 361.57" stroke="#2a2a2a" stroke-width="1.4"/>
<path d="M458.90 392.10L458.90 389.75M458.90 392.10L461.13 391.37M458.90 392.10L460.28 394.00M458.90 392.10L457.52 394.00M458.90 392.10L456.67 391.37" stroke="#2a2a2a" stroke-width="1.4"/>
<path d="M464.80 392.10L464.80 389.75M464.80 392.10L467.03 391.37M464.80 392.10L466.18 394.00M464.80 392.10L463.42 394.00M464.80 392.10L462.57 391.37" stroke="#2a2a2a" stroke-width="1.4"/>
<path d="M456.30 423.10L456.30 420.75M456.30 423.10L458.53 422.37M456.30 423.10L457.68 425.00M456.30 423.10L454.92 425.00M456.30 423.10L454.07 422.37" stroke="#2a2a2a" stroke-width="1.4"/>
<path d="M462.30 423.10L462.30 420.75M462.30 423.10L464.53 422.37M462.30 423.10L463.68 425.00M462.30 423.10L460.92 425.00M462.30 423.10L460.07 422.37" stroke="#2a2a2a" stroke-width="1.4"/>
<path d="M468.30 423.10L468.30 420.75M468.30 423.10L470.53 422.37M468.30 423.10L469.68 425.00M468.30 423.10L466.92 425.00M468.30 423.10L466.07 422.37" stroke="#2a2a2a" stroke-width="1.4"/>
<text x="391.68" y="277.50" font-size="13.00" font-weight="bold" fill="#1e1e1e" stroke="#1e1e1e" stroke-width="0.45">E</text>
<text x="369.91" y="473.70" font-size="12.00" font-weight="bold" fill="#1e1e1e" stroke="#1e1e1e" stroke-width="0.28">Psychological</text>
<line x1="567.80" y1="284.60" x2="567.80" y2="444.00" stroke="#1a1a1a" stroke-width="1.70"/>
<line x1="566.95" y1="437.00" x2="668.95" y2="437.00" stroke="#1a1a1a" stroke-width="1.70"/>
<line x1="567.50" y1="437.00" x2="567.50" y2="444.00" stroke="#1a1a1a" stroke-width="1.60"/>
<text x="564.45" y="456.00" font-size="11.00" font-weight="bold" fill="#1e1e1e" stroke="#1e1e1e" stroke-width="0.28">0</text>
<line x1="587.60" y1="437.00" x2="587.60" y2="444.00" stroke="#1a1a1a" stroke-width="1.60"/>
<text x="581.52" y="456.00" font-size="11.00" font-weight="bold" fill="#1e1e1e" stroke="#1e1e1e" stroke-width="0.28">20</text>
<line x1="607.70" y1="437.00" x2="607.70" y2="444.00" stroke="#1a1a1a" stroke-width="1.60"/>
<text x="601.73" y="456.00" font-size="11.00" font-weight="bold" fill="#1e1e1e" stroke="#1e1e1e" stroke-width="0.28">40</text>
<line x1="627.80" y1="437.00" x2="627.80" y2="444.00" stroke="#1a1a1a" stroke-width="1.60"/>
<text x="621.72" y="456.00" font-size="11.00" font-weight="bold" fill="#1e1e1e" stroke="#1e1e1e" stroke-width="0.28">60</text>
<line x1="648.00" y1="437.00" x2="648.00" y2="444.00" stroke="#1a1a1a" stroke-width="1.60"/>
<text x="641.95" y="456.00" font-size="11.00" font-weight="bold" fill="#1e1e1e" stroke="#1e1e1e" stroke-width="0.28">80</text>
<line x1="668.10" y1="437.00" x2="668.10" y2="444.00" stroke="#1a1a1a" stroke-width="1.60"/>
<text x="658.80" y="456.00" font-size="11.00" font-weight="bold" fill="#1e1e1e" stroke="#1e1e1e" stroke-width="0.28">100</text>
<line x1="561.30" y1="299.40" x2="567.80" y2="299.40" stroke="#1a1a1a" stroke-width="1.60"/>
<text x="514.05" y="303.20" font-size="11.20" font-weight="bold" fill="#1e1e1e" stroke="#1e1e1e" stroke-width="0.28">Chronic</text>
<line x1="561.30" y1="330.10" x2="567.80" y2="330.10" stroke="#1a1a1a" stroke-width="1.60"/>
<text x="502.30" y="334.60" font-size="11.20" font-weight="bold" fill="#1e1e1e" stroke="#1e1e1e" stroke-width="0.28">Sub-acute</text>
<line x1="561.30" y1="360.80" x2="567.80" y2="360.80" stroke="#1a1a1a" stroke-width="1.60"/>
<text x="477.81" y="364.90" font-size="11.20" font-weight="bold" fill="#1e1e1e" stroke="#1e1e1e" stroke-width="0.28">Thoracolumbar</text>
<line x1="561.30" y1="391.50" x2="567.80" y2="391.50" stroke="#1a1a1a" stroke-width="1.60"/>
<text x="516.28" y="396.00" font-size="11.20" font-weight="bold" fill="#1e1e1e" stroke="#1e1e1e" stroke-width="0.28">Cervical</text>
<line x1="561.30" y1="422.80" x2="567.80" y2="422.80" stroke="#1a1a1a" stroke-width="1.60"/>
<text x="533.90" y="427.00" font-size="11.20" font-weight="bold" fill="#1e1e1e" stroke="#1e1e1e" stroke-width="0.28">Total</text>
<line x1="599.30" y1="299.50" x2="640.10" y2="299.50" stroke="#e04848" stroke-width="1.20"/>
<line x1="599.30" y1="297.30" x2="599.30" y2="301.70" stroke="#e04848" stroke-width="1.10"/>
<line x1="640.10" y1="297.30" x2="640.10" y2="301.70" stroke="#e04848" stroke-width="1.10"/>
<rect x="616.90" y="297.00" width="5" height="5" fill="#ff0000"/>
<line x1="600.90" y1="330.10" x2="637.70" y2="330.10" stroke="#e04848" stroke-width="1.20"/>
<line x1="600.90" y1="327.90" x2="600.90" y2="332.30" stroke="#e04848" stroke-width="1.10"/>
<line x1="637.70" y1="327.90" x2="637.70" y2="332.30" stroke="#e04848" stroke-width="1.10"/>
<rect x="616.80" y="327.60" width="5" height="5" fill="#ff0000"/>
<line x1="597.40" y1="361.10" x2="635.60" y2="361.10" stroke="#e04848" stroke-width="1.20"/>
<line x1="597.40" y1="358.90" x2="597.40" y2="363.30" stroke="#e04848" stroke-width="1.10"/>
<line x1="635.60" y1="358.90" x2="635.60" y2="363.30" stroke="#e04848" stroke-width="1.10"/>
<rect x="613.70" y="358.60" width="5" height="5" fill="#ff0000"/>
<line x1="607.00" y1="391.80" x2="646.50" y2="391.80" stroke="#e04848" stroke-width="1.20"/>
<line x1="607.00" y1="389.60" x2="607.00" y2="394.00" stroke="#e04848" stroke-width="1.10"/>
<line x1="646.50" y1="389.60" x2="646.50" y2="394.00" stroke="#e04848" stroke-width="1.10"/>
<rect x="624.20" y="389.30" width="5" height="5" fill="#ff0000"/>
<line x1="599.90" y1="422.80" x2="639.10" y2="422.80" stroke="#e04848" stroke-width="1.20"/>
<line x1="599.90" y1="420.60" x2="599.90" y2="425.00" stroke="#e04848" stroke-width="1.10"/>
<line x1="639.10" y1="420.60" x2="639.10" y2="425.00" stroke="#e04848" stroke-width="1.10"/>
<rect x="616.90" y="420.30" width="5" height="5" fill="#ff0000"/>
<line x1="592.50" y1="307.50" x2="625.30" y2="307.50" stroke="#4040d8" stroke-width="1.20"/>
<line x1="592.50" y1="305.30" x2="592.50" y2="309.70" stroke="#4040d8" stroke-width="1.10"/>
<line x1="625.30" y1="305.30" x2="625.30" y2="309.70" stroke="#4040d8" stroke-width="1.10"/>
<circle cx="608.80" cy="307.50" r="2.6" fill="#0000ff"/>
<line x1="588.30" y1="338.40" x2="619.70" y2="338.40" stroke="#4040d8" stroke-width="1.20"/>
<line x1="588.30" y1="336.20" x2="588.30" y2="340.60" stroke="#4040d8" stroke-width="1.10"/>
<line x1="619.70" y1="336.20" x2="619.70" y2="340.60" stroke="#4040d8" stroke-width="1.10"/>
<circle cx="604.10" cy="338.40" r="2.6" fill="#0000ff"/>
<line x1="586.90" y1="369.50" x2="621.90" y2="369.50" stroke="#4040d8" stroke-width="1.20"/>
<line x1="586.90" y1="367.30" x2="586.90" y2="371.70" stroke="#4040d8" stroke-width="1.10"/>
<line x1="621.90" y1="367.30" x2="621.90" y2="371.70" stroke="#4040d8" stroke-width="1.10"/>
<circle cx="604.40" cy="369.50" r="2.6" fill="#0000ff"/>
<line x1="597.40" y1="400.50" x2="629.80" y2="400.50" stroke="#4040d8" stroke-width="1.20"/>
<line x1="597.40" y1="398.30" x2="597.40" y2="402.70" stroke="#4040d8" stroke-width="1.10"/>
<line x1="629.80" y1="398.30" x2="629.80" y2="402.70" stroke="#4040d8" stroke-width="1.10"/>
<circle cx="613.70" cy="400.50" r="2.6" fill="#0000ff"/>
<line x1="590.20" y1="431.30" x2="624.70" y2="431.30" stroke="#4040d8" stroke-width="1.20"/>
<line x1="590.20" y1="429.10" x2="590.20" y2="433.50" stroke="#4040d8" stroke-width="1.10"/>
<line x1="624.70" y1="429.10" x2="624.70" y2="433.50" stroke="#4040d8" stroke-width="1.10"/>
<circle cx="607.30" cy="431.30" r="2.6" fill="#0000ff"/>
<path d="M658.70 305.70L658.70 303.35M658.70 305.70L660.93 304.97M658.70 305.70L660.08 307.60M658.70 305.70L657.32 307.60M658.70 305.70L656.47 304.97" stroke="#2a2a2a" stroke-width="1.4"/>
<path d="M664.90 305.70L664.90 303.35M664.90 305.70L667.13 304.97M664.90 305.70L666.28 307.60M664.90 305.70L663.52 307.60M664.90 305.70L662.67 304.97" stroke="#2a2a2a" stroke-width="1.4"/>
<path d="M671.10 305.70L671.10 303.35M671.10 305.70L673.33 304.97M671.10 305.70L672.48 307.60M671.10 305.70L669.72 307.60M671.10 305.70L668.87 304.97" stroke="#2a2a2a" stroke-width="1.4"/>
<path d="M662.30 336.20L662.30 333.85M662.30 336.20L664.53 335.47M662.30 336.20L663.68 338.10M662.30 336.20L660.92 338.10M662.30 336.20L660.07 335.47" stroke="#2a2a2a" stroke-width="1.4"/>
<path d="M668.70 336.20L668.70 333.85M668.70 336.20L670.93 335.47M668.70 336.20L670.08 338.10M668.70 336.20L667.32 338.10M668.70 336.20L666.47 335.47" stroke="#2a2a2a" stroke-width="1.4"/>
<path d="M660.20 365.50L660.20 363.15M660.20 365.50L662.43 364.77M660.20 365.50L661.58 367.40M660.20 365.50L658.82 367.40M660.20 365.50L657.97 364.77" stroke="#2a2a2a" stroke-width="1.4"/>
<path d="M666.45 365.50L666.45 363.15M666.45 365.50L668.68 364.77M666.45 365.50L667.83 367.40M666.45 365.50L665.07 367.40M666.45 365.50L664.22 364.77" stroke="#2a2a2a" stroke-width="1.4"/>
<path d="M672.70 365.50L672.70 363.15M672.70 365.50L674.93 364.77M672.70 365.50L674.08 367.40M672.70 365.50L671.32 367.40M672.70 365.50L670.47 364.77" stroke="#2a2a2a" stroke-width="1.4"/>
<path d="M662.80 396.10L662.80 393.75M662.80 396.10L665.03 395.37M662.80 396.10L664.18 398.00M662.80 396.10L661.42 398.00M662.80 396.10L660.57 395.37" stroke="#2a2a2a" stroke-width="1.4"/>
<path d="M668.70 396.10L668.70 393.75M668.70 396.10L670.93 395.37M668.70 396.10L670.08 398.00M668.70 396.10L667.32 398.00M668.70 396.10L666.47 395.37" stroke="#2a2a2a" stroke-width="1.4"/>
<path d="M659.80 427.30L659.80 424.95M659.80 427.30L662.03 426.57M659.80 427.30L661.18 429.20M659.80 427.30L658.42 429.20M659.80 427.30L657.57 426.57" stroke="#2a2a2a" stroke-width="1.4"/>
<path d="M665.95 427.30L665.95 424.95M665.95 427.30L668.18 426.57M665.95 427.30L667.33 429.20M665.95 427.30L664.57 429.20M665.95 427.30L663.72 426.57" stroke="#2a2a2a" stroke-width="1.4"/>
<path d="M672.10 427.30L672.10 424.95M672.10 427.30L674.33 426.57M672.10 427.30L673.48 429.20M672.10 427.30L670.72 429.20M672.10 427.30L669.87 426.57" stroke="#2a2a2a" stroke-width="1.4"/>
<text x="603.64" y="281.00" font-size="13.00" font-weight="bold" fill="#1e1e1e" stroke="#1e1e1e" stroke-width="0.45">F</text>
<text x="576.91" y="474.10" font-size="12.00" font-weight="bold" fill="#1e1e1e" stroke="#1e1e1e" stroke-width="0.28">Environmental</text>
<circle cx="331.0" cy="505.4" r="2.5" fill="#0000ff"/>
<rect x="328.5" y="525.7" width="5" height="5" fill="#ff0000"/>
<text x="350.11" y="510.60" font-size="13.80" font-weight="normal" fill="#1e1e1e" stroke="#1e1e1e" stroke-width="0.15">Pre-Op</text>
<text x="349.88" y="533.00" font-size="13.80" font-weight="normal" fill="#1e1e1e" stroke="#1e1e1e" stroke-width="0.15">12 Mo</text>
</svg>
</body></html>
